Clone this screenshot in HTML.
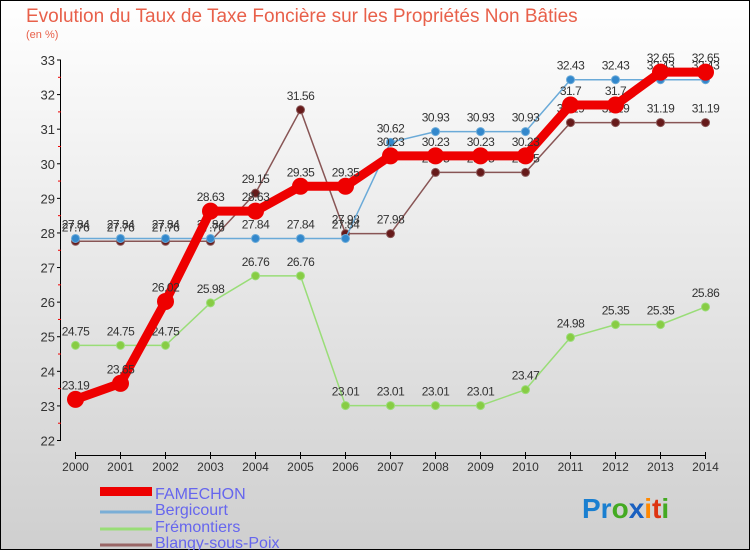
<!DOCTYPE html>
<html><head><meta charset="utf-8"><style>
body{margin:0}
#c{width:750px;height:550px;position:relative;font-family:"Liberation Sans",sans-serif;}
</style></head><body>
<div id="c">
<svg width="750" height="550" xmlns="http://www.w3.org/2000/svg" id="svg">
<defs><linearGradient id="bg" x1="0" y1="0" x2="0" y2="1"><stop offset="0" stop-color="#ffffff"/><stop offset="1" stop-color="#cfcfcf"/></linearGradient></defs>
<rect x="0.5" y="0.5" width="749" height="549" fill="url(#bg)" stroke="#000"/>
<text x="26" y="22" font-size="19" fill="#e8604a">Evolution du Taux de Taxe Foncière sur les Propriétés Non Bâties</text>
<text x="26" y="38" font-size="11" fill="#e8604a">(en %)</text>
<g id="axes"></g>
<g id="series"></g>
<g id="legend">
<rect x="100" y="487" width52="" height="9" fill="#e00" width="52"/>
<text x="155" y="499" font-size="16" fill="#6666ee">FAMECHON</text>
<line x1="100" y1="512" x2="152" y2="512" stroke="#7aaed6" stroke-width="3"/>
<text x="155" y="515" font-size="16" fill="#6666ee">Bergicourt</text>
<line x1="100" y1="529" x2="152" y2="529" stroke="#99dd77" stroke-width="3"/>
<text x="155" y="532" font-size="16" fill="#6666ee">Frémontiers</text>
<line x1="100" y1="545" x2="152" y2="545" stroke="#996666" stroke-width="3"/>
<text x="155" y="548" font-size="16" fill="#6666ee">Blangy-sous-Poix</text>
</g>
<g font-size="28" font-weight="bold">
<text x="582" y="518"><tspan fill="#1a7fd0">Pr</tspan><tspan fill="#44aa22">o</tspan><tspan fill="#1a60c0">x</tspan><tspan fill="#ff8800">i</tspan><tspan fill="#dd3311">t</tspan><tspan fill="#44aa22">i</tspan></text>
</g>
</svg>
</div>
<script>
const years=[2000,2001,2002,2003,2004,2005,2006,2007,2008,2009,2010,2011,2012,2013,2014];
const yTicks=[22,23,24,25,26,27,28,29,30,31,32,33];
const famechon=[23.19,23.65,26.02,28.63,28.63,29.35,29.35,30.23,30.23,30.23,30.23,31.7,31.7,32.65,32.65];
const bergicourt=[27.84,27.84,27.84,27.84,27.84,27.84,27.84,30.62,30.93,30.93,30.93,32.43,32.43,32.43,32.43];
const fremontiers=[24.75,24.75,24.75,25.98,26.76,26.76,23.01,23.01,23.01,23.01,23.47,24.98,25.35,25.35,25.86];
const blangy=[27.76,27.76,27.76,27.76,29.15,31.56,27.98,27.98,29.75,29.75,29.75,31.19,31.19,31.19,31.19];
const NS="http://www.w3.org/2000/svg";
const X=i=>75.5+i*(705.5-75.5)/(years.length-1);
const Y=v=>440.5-(v-22)*(380.5/11);
function mk(t,a,p){const e=document.createElementNS(NS,t);for(const k in a)e.setAttribute(k,a[k]);p.appendChild(e);return e;}
const axes=document.getElementById('axes');
const ax=mk('line',{x1:60.5,y1:60,x2:60.5,y2:441,stroke:'#000','stroke-width':1},axes);


const xa=mk('line',{x1:75.5,y1:455.5,x2:705.5,y2:455.5,stroke:'#000','stroke-width':1},axes);


yTicks.forEach((v,i)=>{
  const y=Y(v);
  mk('line',{x1:57,y1:y,x2:61,y2:y,stroke:'#000'},axes);
  if(i<yTicks.length-1) mk('line',{x1:58,y1:Y(v+0.5),x2:61,y2:Y(v+0.5),stroke:'#e00'},axes);
  const t=mk('text',{x:55,y:y+5,'font-size':13,fill:'#333','text-anchor':'end'},axes);
  t.textContent=v;
  
  
});
years.forEach((yr,i)=>{
  const x=X(i);
  mk('line',{x1:x,y1:452,x2:x,y2:459,stroke:'#000'},axes);
  const t=mk('text',{x:x,y:471,'font-size':12,fill:'#333','text-anchor':'middle'},axes);
  t.textContent=yr;
  
  
});
const sg=document.getElementById('series');
function series(name,vals,color,w,r,dot){
  const g=mk('g',{},sg);
  
  
  const pl=mk('polyline',{points:vals.map((v,i)=>X(i)+','+Y(v)).join(' '),fill:'none',stroke:color,'stroke-width':w,'stroke-linejoin':'round'},g);
  
  
  vals.forEach((v,i)=>{
    const c=mk('circle',{cx:X(i),cy:Y(v),r:r,fill:dot,stroke:color,'stroke-width':1},g);
    
    
    const t=mk('text',{x:X(i),y:Y(v)-10,'font-size':12,fill:'#333','text-anchor':'middle','letter-spacing':'-0.5'},g);
    t.textContent=v;
    
    
  });
}
series('fremontiers',fremontiers,'#99dd77',1.5,4,'#88cc44');
series('blangy',blangy,'#885555',1.5,4,'#661a1a');
series('bergicourt',bergicourt,'#6aaad8',1.5,4,'#3388cc');
series('famechon',famechon,'#ee0000',9,8,'#ee0000');
</script>
</body></html>
